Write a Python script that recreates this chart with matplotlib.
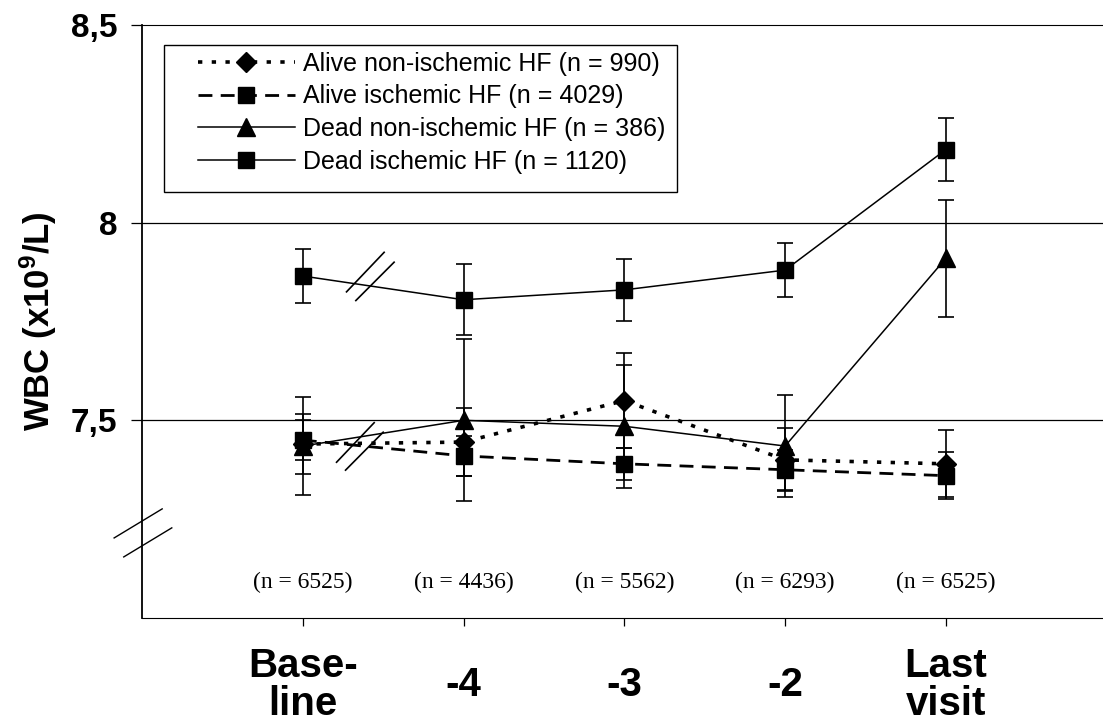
import matplotlib
matplotlib.use("Agg")
import matplotlib.pyplot as plt
from matplotlib.patches import Rectangle
from matplotlib.lines import Line2D

plt.rcParams['font.family'] = ['Liberation Sans', 'DejaVu Sans']
plt.rcParams['mathtext.fontset'] = 'custom'
plt.rcParams['mathtext.rm'] = 'Liberation Sans:bold'
plt.rcParams['mathtext.default'] = 'rm'

# data
visits = ['Base-\nline', '-4', '-3', '-2', 'Last\nvisit']
n_total = ['(n = 6525)', '(n = 4436)', '(n = 5562)', '(n = 6293)', '(n = 6525)']

alive_noni = [7.44, 7.445, 7.55, 7.40, 7.39]
alive_noni_err = [0.075, 0.085, 0.12, 0.08, 0.085]
alive_isch = [7.45, 7.41, 7.39, 7.375, 7.36]
alive_isch_err = [0.05, 0.05, 0.04, 0.05, 0.06]
dead_noni = [7.435, 7.50, 7.485, 7.435, 7.91]
dead_noni_err = [0.125, 0.205, 0.155, 0.13, 0.148]
dead_isch = [7.865, 7.805, 7.83, 7.88, 8.185]
dead_isch_err = [0.068, 0.09, 0.078, 0.068, 0.08]

labels = ['Alive non-ischemic HF (n = 990)', 'Alive ischemic HF (n = 4029)',
          'Dead non-ischemic HF (n = 386)', 'Dead ischemic HF (n = 1120)']

x = list(range(len(visits)))

fig = plt.figure(figsize=(11.03, 7.26), dpi=100)
ax = fig.add_axes([142/1103, 108/726, 961/1103, 593/726])

ax.axhline(7.5, color='black', lw=0.9, zorder=1)
ax.axhline(8.0, color='black', lw=0.9, zorder=1)

# line style, marker, size per series
styles = [((0, (1.2, 2.6)), 2.6, 'D', 10),
          ((0, (5, 3)), 2.0, 's', 12),
          ('-', 1.1, '^', 13),
          ('-', 1.1, 's', 12)]
series = [(alive_noni, alive_noni_err), (alive_isch, alive_isch_err),
          (dead_noni, dead_noni_err), (dead_isch, dead_isch_err)]

handles = []
for (vals, err), (ls, lw, mk, ms), lab in zip(series, styles, labels):
    ax.errorbar(x, vals, yerr=err, ls=ls, lw=lw, marker=mk, ms=ms, color='black',
                ecolor='black', elinewidth=1.2, capsize=6, capthick=1.2, zorder=3)
    handles.append(Line2D([], [], ls=ls, lw=lw, marker=mk, ms=ms, color='black', label=lab))

# break marks between baseline and -4
for (x0, y0, x1, y1) in [(0.272, 7.825, 0.506, 7.925), (0.33, 7.803, 0.568, 7.900),
                         (0.21, 7.394, 0.444, 7.494), (0.266, 7.374, 0.50, 7.470)]:
    ax.plot([x0, x1], [y0, y1], color='black', lw=1.2, zorder=4)

# break marks on y axis
for (x0, y0, x1, y1) in [(-0.029, 0.135, 0.021, 0.184), (-0.019, 0.103, 0.031, 0.152)]:
    ax.plot([x0, x1], [y0, y1], color='black', lw=1.0, transform=ax.transAxes, clip_on=False)

for xi, txt in zip(x, n_total):
    ax.text(xi, 7.09, txt, ha='center', va='center', fontsize=17, family='Liberation Serif')

ax.set_xlim(-1.0, 4.977)
ax.set_ylim(7.0, 8.5)
ax.set_yticks([7.5, 8.0, 8.5])
ax.set_yticklabels(['7,5', '8', '8,5'], fontsize=24, fontweight='bold')
ax.tick_params(axis='y', length=8, width=0.9, pad=10)
ax.set_xticks(x)
ax.set_xticklabels(visits, fontsize=29, fontweight='bold', linespacing=1.0)
for t in ax.get_xticklabels():
    t.set_verticalalignment('center')
ax.tick_params(axis='x', length=6, width=0.9, pad=42)

ax.spines['right'].set_visible(False)
ax.spines['left'].set_linewidth(1.3)
ax.spines['top'].set_linewidth(0.8)
ax.spines['top'].set_linestyle((0, (3, 1)))
ax.spines['bottom'].set_linewidth(0.8)
ax.spines['bottom'].set_linestyle((0, (3, 1)))

ax.set_ylabel('WBC (x10$^{9}$/L)', fontsize=25, fontweight='bold', labelpad=8)

leg = ax.legend(handles=handles, loc='upper left', bbox_to_anchor=(0.058, 0.955), frameon=False,
                fontsize=18, handlelength=3.9, handletextpad=0.3, labelspacing=0.35,
                borderpad=0, borderaxespad=0)

# legend frame drawn by hand so the padding matches
fig.canvas.draw()
bb = leg.get_window_extent().transformed(ax.transAxes.inverted())
box = Rectangle((0.023, bb.y0 - 0.03), bb.x1 + 0.012 - 0.023, 0.966 - (bb.y0 - 0.03),
                transform=ax.transAxes, fill=False, lw=1.0, ec='black', zorder=5)
ax.add_patch(box)

fig.savefig('out.png', dpi=100)
